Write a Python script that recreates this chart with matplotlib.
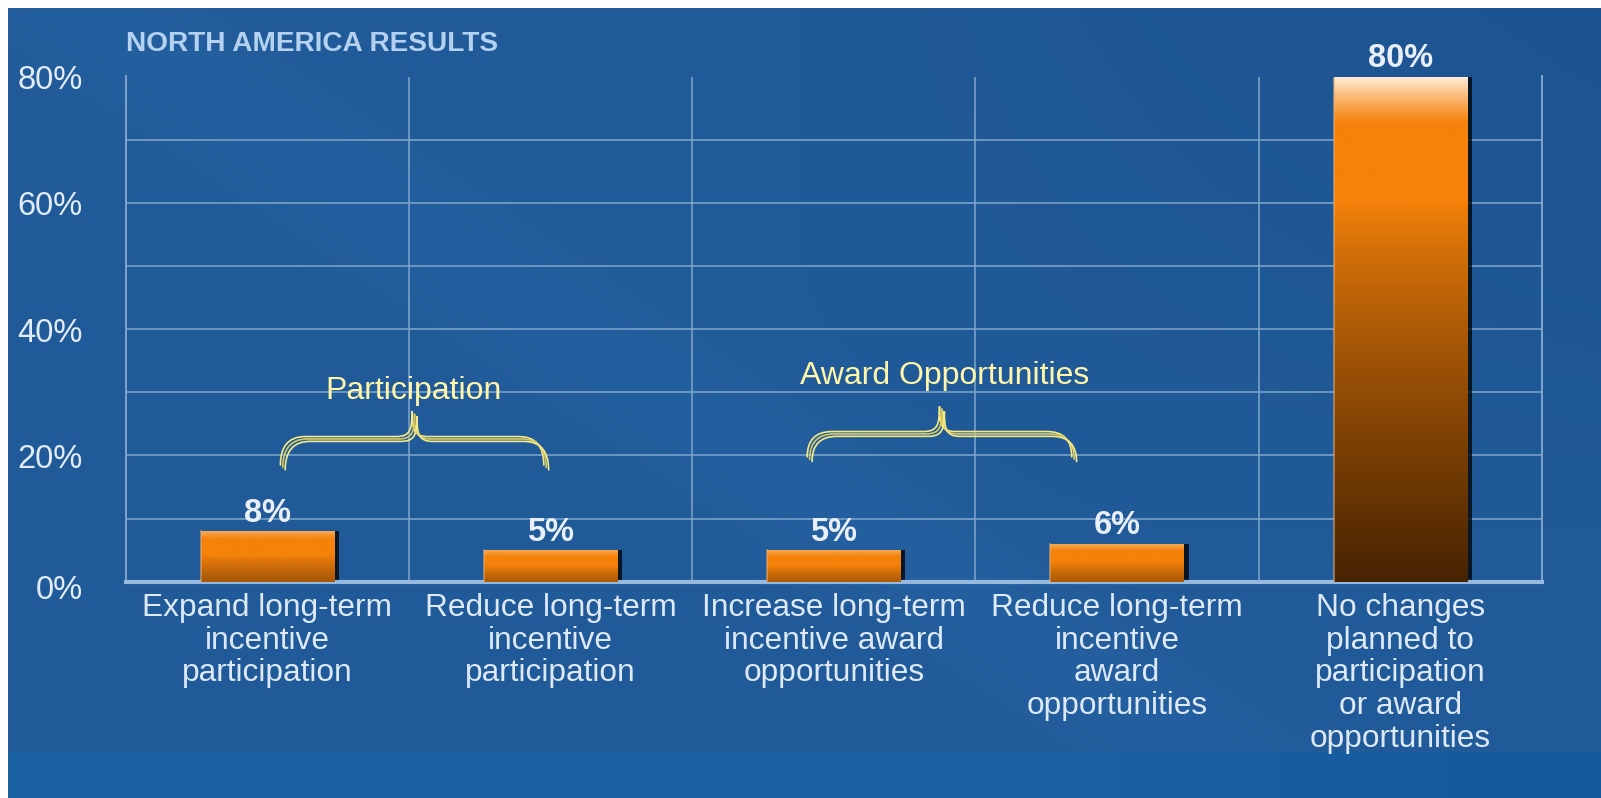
import numpy as np
import matplotlib
matplotlib.use("Agg")
import matplotlib.pyplot as plt
from matplotlib.patches import Rectangle, PathPatch
from matplotlib.path import Path
import matplotlib.transforms as mtransforms
from matplotlib.colors import to_rgb

# ---- data ----
categories = [
    "Expand long-term\nincentive\nparticipation",
    "Reduce long-term\nincentive\nparticipation",
    "Increase long-term\nincentive award\nopportunities",
    "Reduce long-term\nincentive\naward\nopportunities",
    "No changes\nplanned to\nparticipation\nor award\nopportunities",
]
values = [8, 5, 5, 6, 80]
value_labels = ["8%", "5%", "5%", "6%", "80%"]
y_ticks = [0, 20, 40, 60, 80]
y_tick_labels = ["0%", "20%", "40%", "60%", "80%"]
title = "NORTH AMERICA RESULTS"
group_names = ["Participation", "Award Opportunities"]

plt.rcParams["font.family"] = ["Liberation Sans", "DejaVu Sans"]

W, H = 1601, 798
DPI = 100
fig = plt.figure(figsize=(W / DPI, H / DPI), dpi=DPI)

# ---- background ----
bg = fig.add_axes([0, 0, 1, 1], zorder=-10)
bg.set_axis_off()
yy, xx = np.mgrid[0:H, 0:W]
fx = xx / W
fy = yy / H
base = np.array([33, 90, 152], float)
img = np.zeros((H, W, 3))
img[...] = base
# slightly darker toward the upper right
img -= (np.clip(fx - 0.5, 0, 1) * np.clip(1 - fy * 1.5, 0, 1))[..., None] * np.array([10, 12, 14])
# faint diagonal sheen
band = np.exp(-((fx * 1.2 - fy * 0.9 - 0.05) ** 2) / 0.01)
img += band[..., None] * np.array([3, 5, 7])
# lower band
low = yy >= 752
img[low] = np.array([27, 98, 165])
img[low] -= (np.clip(fx[low] - 0.6, 0, 1) * 20)[:, None]
# white margins
img[:8, :] = 255
img[:, :8] = 255
bg.imshow(np.clip(img, 0, 255).astype(np.uint8), extent=[0, 1, 0, 1],
          aspect="auto", transform=bg.transAxes)
bg.set_xlim(0, 1)
bg.set_ylim(0, 1)

# ---- main axes ----
left, right, top, bottom = 125.6, 1541.8, 76.5, 581.7
ax = fig.add_axes([left / W, 1 - bottom / H, (right - left) / W, (bottom - top) / H])
ax.patch.set_alpha(0)
n = len(categories)
x = np.arange(n)
ax.set_xlim(-0.5, n - 0.5)
ax.set_ylim(0, 80)

grid_col = "#80a5cc"
for gy in range(10, 81, 10):
    ax.axhline(gy, color=grid_col, lw=1.4, alpha=0.8, zorder=1)
for gx in np.arange(0.5, n - 1, 1.0):
    ax.axvline(gx, color=grid_col, lw=1.4, alpha=0.8, zorder=1)
for s in ["left", "right"]:
    ax.spines[s].set_color(grid_col)
    ax.spines[s].set_linewidth(1.4)
ax.spines["top"].set_visible(False)
ax.spines["bottom"].set_color("#98b9de")
ax.spines["bottom"].set_linewidth(3)

ax.set_yticks(y_ticks)
ax.set_yticklabels(y_tick_labels)
ax.tick_params(axis="y", length=0, pad=31, labelsize=23.5, labelcolor="#e2ecf7")
ax.set_xticks(x)
ax.set_xticklabels(categories, linespacing=1.12)
ax.tick_params(axis="x", length=0, pad=8, labelsize=22.8, labelcolor="#dde9f7")
for val, lbl in zip(y_ticks, ax.get_yticklabels()):
    shift = -9 if val == 0 else -4
    lbl.set_verticalalignment("center")
    lbl.set_transform(lbl.get_transform() +
                      mtransforms.ScaledTranslation(0, shift / DPI, fig.dpi_scale_trans))

# ---- bars with gradient ----
orange = np.array(to_rgb("#f5820a"))
white = np.array(to_rgb("#fff4e6"))
dark = np.array(to_rgb("#1c0c00"))
full_px = bottom - top


def bar_fill(v, n_rows=400):
    """Vertical colour ramp for one bar: light cap, orange body, dark foot."""
    h_px = v / 80 * full_px
    s = min(h_px / full_px, 1.0)
    f = np.linspace(0, 1, n_rows)
    px_from_top = (1 - f) * h_px
    # dark foot
    zone = 0.5 + 0.25 * s
    dmax = 0.32 + 0.48 * s
    d = dmax * np.clip((zone - f) / zone, 0, 1) ** 0.8
    col = orange[None, :] * (1 - d[:, None]) + dark[None, :] * d[:, None]
    # light cap
    hl_len = 4 + 44 * s
    hl_str = 0.3 + 0.65 * s
    hl = hl_str * np.clip(1 - px_from_top / hl_len, 0, 1) ** 1.2
    col = col * (1 - hl[:, None]) + white[None, :] * hl[:, None]
    return col[:, None, :]


bw = 0.47
shadow_tf = ax.transData + mtransforms.ScaledTranslation(5 / DPI, 0, fig.dpi_scale_trans)
for xi, v, lab in zip(x, values, value_labels):
    x0 = xi - bw / 2
    sh = Rectangle((x0, 0), bw, v, facecolor="#000000", alpha=0.75,
                   edgecolor="none", transform=shadow_tf, zorder=2)
    ax.add_patch(sh)
    rect = Rectangle((x0, 0), bw, v, facecolor="none", edgecolor="none", zorder=3)
    ax.add_patch(rect)
    im = ax.imshow(bar_fill(v), origin="lower", aspect="auto",
                   extent=[x0, x0 + bw, 0, v], zorder=3, interpolation="bilinear")
    im.set_clip_path(rect)
    ax.plot([x0, x0], [0, v], color="#f0b070", lw=1.2, alpha=0.6, zorder=3.5)
    ax.annotate(lab, (xi, v), xytext=(0, 13), textcoords="offset points",
                ha="center", va="center", fontsize=23.5, fontweight="bold",
                color="#e8eff8", zorder=5)

# ---- group braces ----
brace_cols = ["#f6ea86", "#d9c860", "#f6ea86"]


def brace(x0, x1, y_tip, y_flat, y_apex):
    xm = (x0 + x1) / 2
    r = 0.094 * (x1 - x0)
    r2 = 0.06 * (x1 - x0)
    verts = [
        (x0, y_tip),
        (x0, y_flat), (x0 + r, y_flat),
        (xm - r2, y_flat),
        (xm - r2 * 0.1, y_flat), (xm, y_flat + 0.3 * (y_apex - y_flat)), (xm, y_apex),
        (xm, y_flat + 0.3 * (y_apex - y_flat)), (xm + r2 * 0.1, y_flat), (xm + r2, y_flat),
        (x1 - r, y_flat),
        (x1, y_flat), (x1, y_tip),
    ]
    codes = [Path.MOVETO,
             Path.CURVE3, Path.CURVE3,
             Path.LINETO,
             Path.CURVE4, Path.CURVE4, Path.CURVE4,
             Path.CURVE4, Path.CURVE4, Path.CURVE4,
             Path.LINETO,
             Path.CURVE3, Path.CURVE3]
    p = Path(verts, codes)
    for k, col in zip((-1, 0, 1), brace_cols):
        tf = ax.transData + mtransforms.ScaledTranslation(k * 2.4 / DPI, -k * 2.4 / DPI,
                                                          fig.dpi_scale_trans)
        ax.add_patch(PathPatch(p, facecolor="none", edgecolor=col, lw=1.2,
                               transform=tf, zorder=4, capstyle="round"))


brace(0.055, 0.985, 18.1, 22.6, 26.6)
ax.text(0.517, 30.2, group_names[0], ha="center", va="center", fontsize=23,
        color="#fff6aa", zorder=5)
brace(1.915, 2.849, 19.4, 23.4, 27.4)
ax.text(2.39, 32.6, group_names[1], ha="center", va="center", fontsize=23,
        color="#fff6aa", zorder=5)

# ---- title ----
fig.text(126 / W, 1 - 44 / H, title, ha="left", va="center", fontsize=20.2,
         fontweight="bold", color="#b4d2f0")

fig.savefig("out.png", dpi=DPI)
